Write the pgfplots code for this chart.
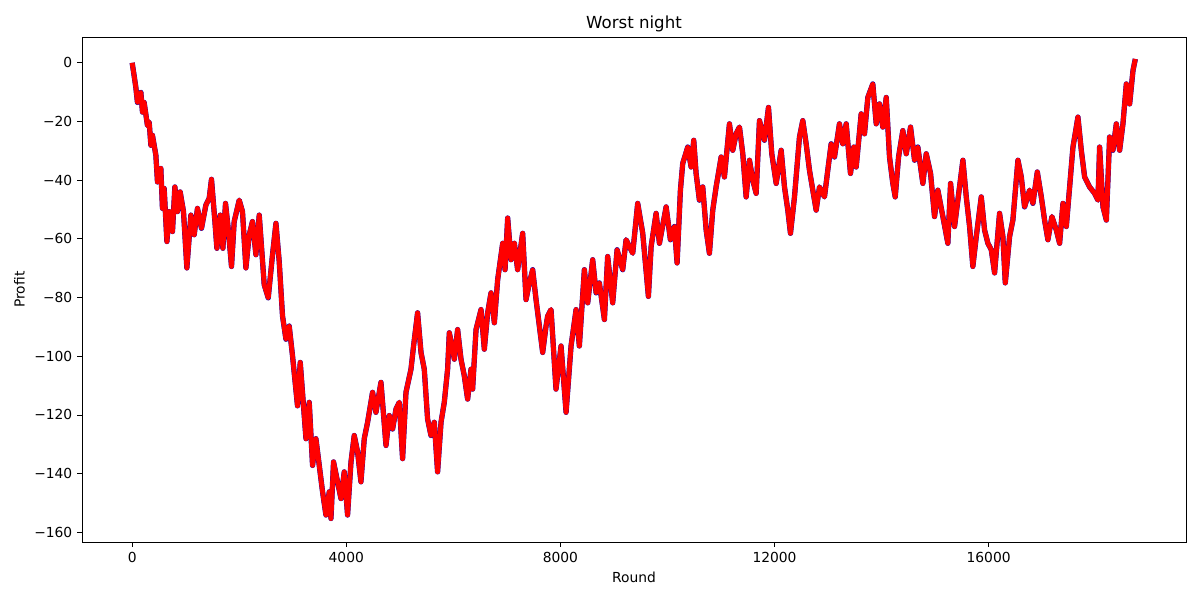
\documentclass[border=0pt]{standalone}
\usepackage{fontspec}
\setmainfont{DejaVu Sans}
\usepackage{pgfplots}
\usepackage{pgfplotstable}
\pgfplotsset{compat=1.18}

% traced profit curve (round, profit)
\pgfplotstableread{
round profit
0 0
37 -4.4
69 -8.4
99 -13.5
163 -10.1
193 -16.8
224 -13.5
286 -21.4
318 -20.2
350 -28.1
379 -24.7
443 -31.5
473 -40.6
536 -36.0
566 -49.6
598 -42.8
649 -60.9
692 -50.7
753 -57.5
798 -42.3
847 -50.7
897 -44.0
959 -50.7
1022 -69.9
1097 -51.9
1159 -58.6
1220 -49.6
1295 -56.4
1377 -48.5
1439 -46.2
1482 -39.7
1546 -54.1
1583 -63.2
1645 -51.9
1695 -63.2
1744 -47.9
1794 -56.4
1856 -69.4
1906 -54.1
2000 -46.8
2061 -50.7
2125 -69.9
2187 -58.6
2248 -54.1
2312 -65.4
2374 -51.9
2467 -75.6
2542 -80.1
2622 -65.4
2686 -54.7
2747 -67.7
2809 -86.3
2873 -94.2
2934 -89.7
2996 -99.9
3089 -116.9
3140 -102.1
3247 -128.1
3308 -115.7
3370 -137.2
3433 -128.1
3495 -137.2
3557 -146.2
3620 -154.1
3682 -146.2
3714 -155.3
3762 -136.0
3837 -142.8
3901 -148.5
3962 -139.4
4024 -154.1
4088 -136.0
4149 -127.0
4211 -132.6
4274 -142.8
4336 -128.1
4398 -122.5
4491 -112.3
4554 -119.1
4648 -108.9
4742 -130.4
4803 -120.2
4865 -124.8
4929 -118.0
4990 -115.7
5052 -134.9
5115 -112.3
5209 -104.4
5257 -96.5
5332 -85.2
5396 -98.7
5457 -104.4
5519 -121.4
5582 -127.0
5644 -122.5
5706 -139.4
5770 -122.5
5831 -115.7
5893 -104.4
5925 -92.0
5986 -97.6
6018 -101.0
6080 -90.9
6143 -101.0
6205 -106.7
6267 -114.6
6330 -104.4
6360 -111.2
6424 -90.9
6517 -84.1
6579 -97.6
6641 -85.2
6704 -78.4
6766 -88.6
6828 -73.9
6922 -61.5
6966 -70.5
7015 -52.9
7078 -67.1
7140 -61.5
7201 -70.5
7295 -58.1
7358 -80.7
7420 -75.0
7482 -70.5
7545 -80.7
7607 -89.7
7669 -98.7
7732 -89.7
7762 -86.3
7825 -84.1
7918 -111.2
8012 -96.5
8106 -119.1
8199 -96.5
8293 -84.1
8354 -96.5
8448 -70.5
8510 -81.8
8603 -67.1
8667 -78.4
8728 -75.0
8822 -87.5
8883 -66.0
8977 -81.8
9059 -63.7
9164 -70.5
9227 -60.3
9351 -64.9
9444 -47.9
9538 -58.1
9644 -79.6
9695 -62.6
9788 -51.3
9850 -61.5
9975 -49.1
10055 -60.3
10130 -55.8
10180 -68.2
10242 -43.4
10285 -34.3
10379 -28.7
10442 -35.5
10491 -26.4
10535 -37.7
10597 -46.8
10659 -42.3
10723 -57.0
10784 -64.9
10846 -50.2
10909 -42.3
11003 -32.1
11064 -38.9
11158 -20.8
11220 -29.8
11283 -24.2
11345 -21.9
11407 -31.0
11470 -45.7
11532 -33.2
11594 -40.0
11657 -44.5
11719 -19.7
11812 -26.4
11887 -15.2
11949 -31.0
12031 -41.1
12124 -29.8
12186 -42.3
12248 -50.2
12298 -58.1
12373 -45.7
12466 -25.3
12528 -19.7
12591 -27.6
12653 -36.6
12715 -43.4
12778 -50.2
12840 -42.3
12933 -45.7
12995 -36.6
13058 -27.6
13120 -32.1
13213 -20.8
13275 -27.6
13339 -20.8
13419 -37.7
13481 -28.7
13526 -35.5
13619 -17.4
13681 -24.2
13743 -11.8
13836 -7.2
13900 -20.8
13961 -14.0
14023 -21.9
14087 -11.8
14148 -32.1
14210 -41.1
14255 -45.7
14317 -32.1
14397 -23.1
14461 -31.0
14541 -21.9
14616 -33.2
14677 -28.7
14771 -41.1
14834 -31.0
14915 -37.7
14989 -52.4
15051 -43.4
15145 -52.4
15238 -61.5
15289 -41.1
15363 -55.8
15425 -46.8
15519 -33.2
15582 -45.7
15644 -55.8
15705 -69.4
15769 -59.2
15862 -45.7
15924 -57.0
15986 -61.5
16049 -63.7
16111 -71.6
16204 -51.3
16266 -59.2
16311 -75.0
16391 -59.2
16453 -53.6
16547 -33.2
16610 -38.9
16671 -49.1
16765 -43.4
16827 -47.9
16909 -37.2
16984 -45.7
17045 -53.6
17107 -60.3
17182 -52.4
17264 -57.0
17326 -61.5
17388 -47.9
17451 -55.8
17513 -42.3
17575 -28.7
17668 -18.5
17731 -29.8
17793 -38.9
17886 -42.3
17980 -44.5
18042 -46.8
18073 -28.7
18136 -49.1
18199 -53.6
18260 -25.3
18322 -29.8
18385 -20.8
18447 -29.8
18509 -20.8
18572 -7.2
18634 -14.0
18696 -2.7
18740 1.3
}\walk

\begin{document}
\begin{tikzpicture}
\begin{axis}[
    scale only axis,
    width=11.04in, height=5.05in,
    xmin=-937, xmax=19687,
    ymin=-163.3, ymax=8.8,
    scaled x ticks=false, scaled y ticks=false,
    xtick={0,4000,8000,12000,16000},
    xticklabels={0,4000,8000,12000,16000},
    ytick={-160,-140,-120,-100,-80,-60,-40,-20,0},
    yticklabels={−160,−140,−120,−100,−80,−60,−40,−20,0},
    xtick pos=bottom, ytick pos=left,
    tick align=outside,
    major tick length=3.5pt,
    tick style={black, line width=0.6pt},
    axis line style={line width=0.6pt},
    tick label style={font=\fontsize{10}{12}\selectfont},
    title={Worst night},
    title style={font=\fontsize{12}{14}\selectfont, yshift=-6pt},
    xlabel={Round}, ylabel={Profit},
    label style={font=\fontsize{10}{12}\selectfont},
    clip=true,
]
\addplot[blue!70!black, line width=3.8pt, line join=round] table[x=round, y=profit] {\walk};
\addplot[red, line width=3.5pt, line join=round] table[x=round, y=profit] {\walk};
\end{axis}
\path[use as bounding box] ([shift={(-0.82in,-0.58in)}]current axis.south west) rectangle ([shift={(0.14in,0.37in)}]current axis.north east);
\end{tikzpicture}
\end{document}
